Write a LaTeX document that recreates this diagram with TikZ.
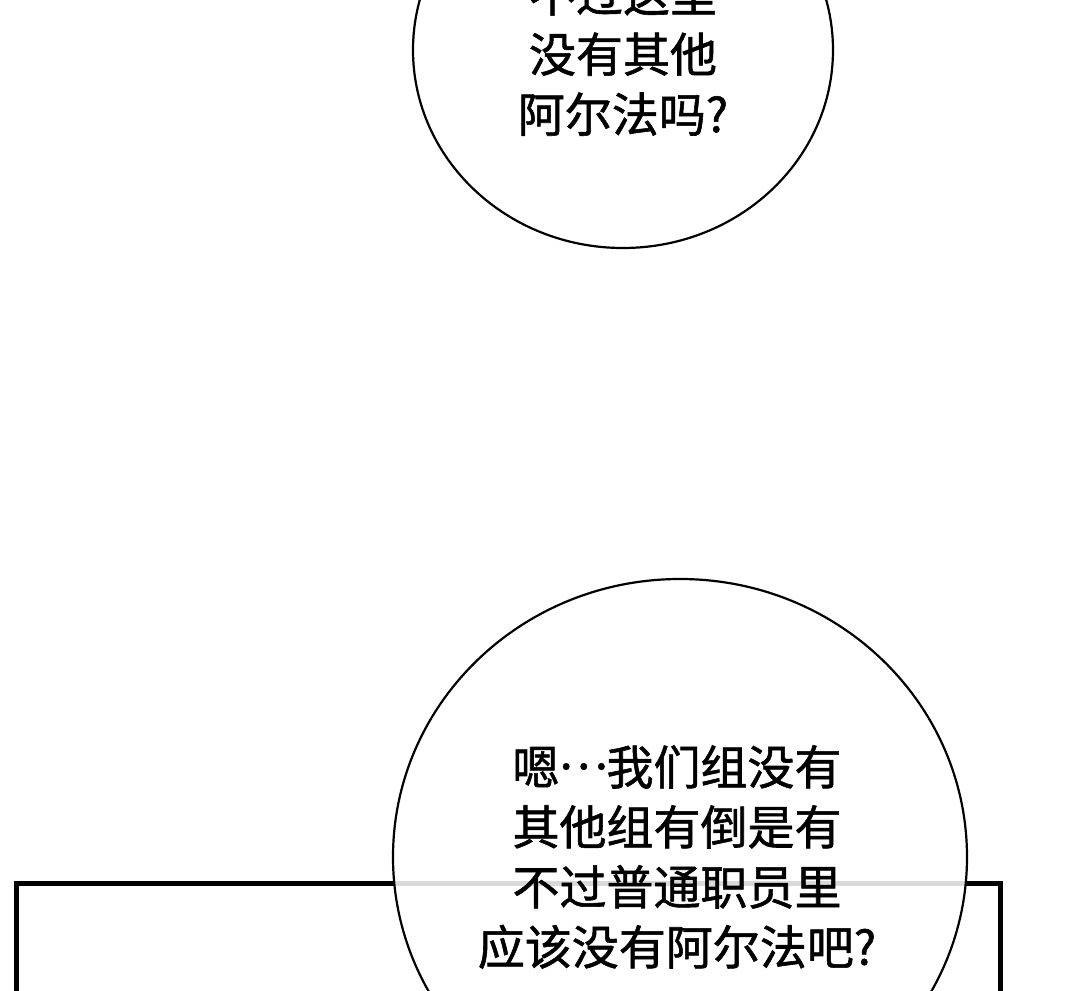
\documentclass[tikz,border=0pt]{standalone}
\usepackage{fontspec}
\newfontfamily\cjk[FakeBold=1.2]{Noto Sans CJK SC}
\usetikzlibrary{shapes.geometric}
\newcommand{\midell}{\makebox[1em]{\raisebox{0.33em}{…}}}
\tikzset{
  bubble/.style={draw=black, line width=2.2pt, fill=white, fill opacity=0.85, draw opacity=1},
  panel/.style={draw=black, line width=5pt},
  speech/.style={align=center, font=\cjk\fontsize{47}{60}\selectfont, text=black, inner sep=0pt}
}
\begin{document}
\begin{tikzpicture}[x=1pt,y=-1pt]
\useasboundingbox[fill=white] (0,0) rectangle (1080,991);
% panel frame
\draw[panel] (16.5,1010) coordinate (pbl) -- (16.5,883.5) coordinate (ptl) -- (1000.5,883.5) coordinate (ptr) -- (1000.5,1010) coordinate (pbr);
% top bubble
\path[bubble] (623,50) ellipse [x radius=210, y radius=198];
\node[speech] (t1) at (623,54) {不过这里\\没有其他\\阿尔法吗?};
% bottom bubble
\path[bubble] (680,857) ellipse [x radius=287, y radius=278];
\node[speech] (t2) at (677,857) {嗯\midell 我们组没有\\其他组有倒是有\\不过普通职员里\\应该没有阿尔法吧?};
\end{tikzpicture}
\end{document}
